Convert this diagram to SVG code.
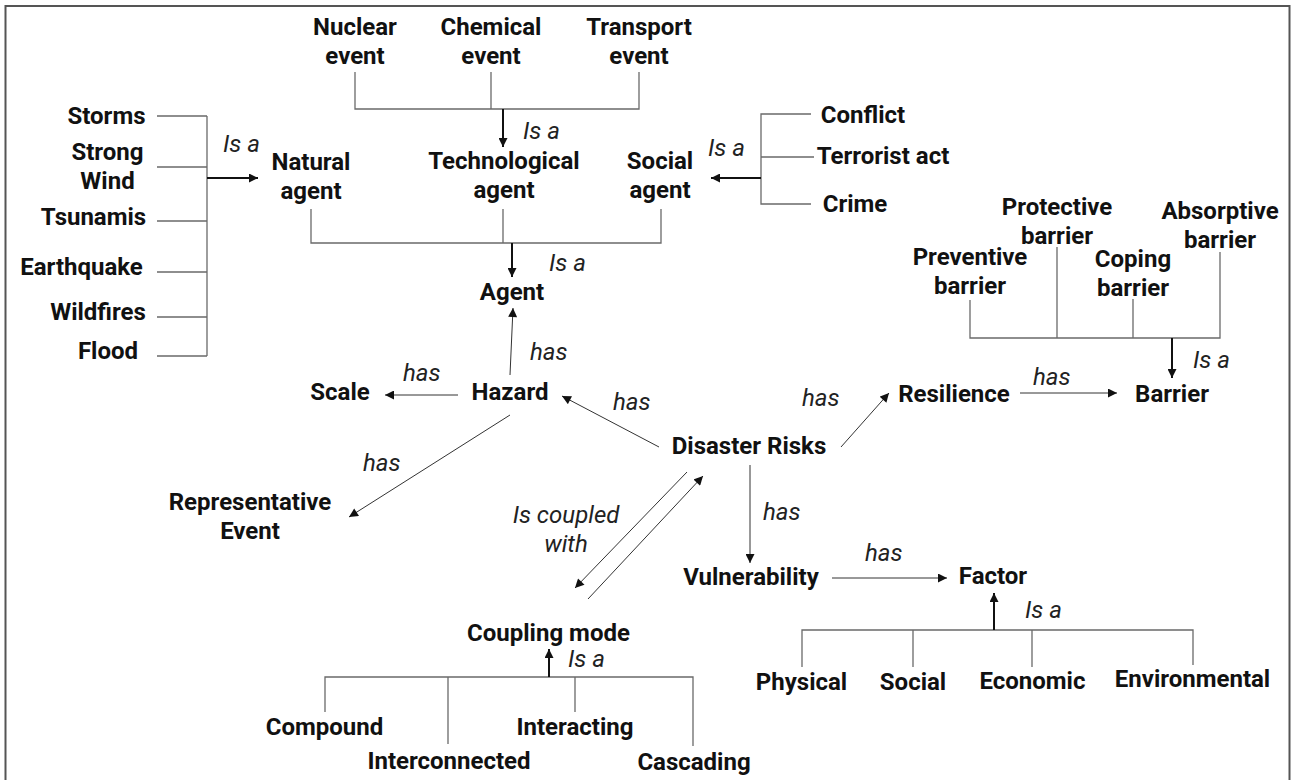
<svg xmlns="http://www.w3.org/2000/svg" width="1293" height="780" viewBox="0 0 1293 780">
<style>
.n{font-family:Roboto,"Liberation Sans",sans-serif;font-weight:700;font-size:24px;fill:#111;text-anchor:middle}
.l{font-family:Roboto,"Liberation Sans",sans-serif;font-style:italic;font-size:24px;fill:#222}
.lm{text-anchor:middle}
.tr{stroke:#6a6a6a;stroke-width:1.3;fill:none}
.has{stroke:#333;stroke-width:1;fill:none;marker-end:url(#a)}
.isa{stroke:#111;stroke-width:2;fill:none;marker-end:url(#a)}
</style>
<defs>
<marker id="a" viewBox="0 0 10 10" refX="10" refY="5" markerWidth="10" markerHeight="9" markerUnits="userSpaceOnUse" orient="auto"><path d="M0,0 L10,5 L0,10 z" fill="#111"/></marker>
</defs>
<rect x="0" y="0" width="1293" height="780" fill="#fff"/>
<rect x="5.5" y="6" width="1284" height="800" fill="none" stroke="#555" stroke-width="2"/>

<g id="connectors">
<path class="tr" d="M355,72 V109 H639 V72 M491,72 V109"/>
<path class="isa" d="M503,109 V147"/>
<path class="tr" d="M311,209 V243 H661 V209 M503,209 V243"/>
<path class="isa" d="M512,243 V277"/>
<path class="tr" d="M157,116 H207 M157,167 H207 M157,221 H207 M157,272 H207 M157,317 H207 M157,356 H207 M207,116 V356"/>
<path class="isa" d="M207,178 H258"/>
<path class="tr" d="M811,114 H761 V204 H811 M761,157 H814"/>
<path class="isa" d="M761,178 H711"/>
<path class="tr" d="M970,300 V338 H1220 V252 M1057,247 V338 M1133,299 V338"/>
<path class="isa" d="M1172,338 V378"/>
<path class="tr" d="M325,712 V677 H693 V746 M448,677 V744 M575,677 V712"/>
<path class="isa" d="M549,677 V649"/>
<path class="tr" d="M802,667 V630 H1193 V665 M913,630 V667 M1032,630 V667"/>
<path class="isa" d="M994,630 V593"/>
<path class="has" d="M510,375 L513,308"/>
<path class="has" d="M458,395 L385,395"/>
<path class="has" d="M510,415 L349,517"/>
<path class="has" d="M659,447 L562,396"/>
<path class="has" d="M841,447 L889,393"/>
<path class="has" d="M750,465 L750,563"/>
<path class="has" d="M832,578 L947,578"/>
<path class="has" d="M1020,393 L1117,393"/>
<path class="has" d="M588,599 L703,476"/>
<path class="has" d="M687,472 L575,588"/>
<text class="l" x="523" y="139">Is a</text>
<text class="l" x="549" y="271">Is a</text>
<text class="l" x="223" y="152">Is a</text>
<text class="l" x="708" y="156">Is a</text>
<text class="l" x="1193" y="368">Is a</text>
<text class="l" x="1033" y="385">has</text>
<text class="l" x="530" y="360">has</text>
<text class="l" x="403" y="381">has</text>
<text class="l" x="363" y="471">has</text>
<text class="l" x="613" y="410">has</text>
<text class="l" x="802" y="406">has</text>
<text class="l" x="763" y="520">has</text>
<text class="l" x="865" y="561">has</text>
<text class="l lm" x="566" y="523">Is coupled</text>
<text class="l lm" x="566" y="552">with</text>
<text class="l" x="568" y="667">Is a</text>
<text class="l" x="1025" y="618">Is a</text>
</g>

<g id="nuclear"><text class="n" x="355" y="35">Nuclear</text><text class="n" x="355" y="64">event</text></g>
<g id="chemical"><text class="n" x="491" y="35">Chemical</text><text class="n" x="491" y="64">event</text></g>
<g id="transport"><text class="n" x="639" y="35">Transport</text><text class="n" x="639" y="64">event</text></g>
<g id="natural"><text class="n" x="311" y="170">Natural</text><text class="n" x="311" y="199">agent</text></g>
<g id="technological"><text class="n" x="504" y="169">Technological</text><text class="n" x="504" y="198">agent</text></g>
<g id="social-agent"><text class="n" x="660" y="169">Social</text><text class="n" x="660" y="198">agent</text></g>
<g id="agent"><text class="n" x="512" y="300">Agent</text></g>
<g id="storms"><text class="n" x="106.5" y="124">Storms</text></g>
<g id="strong-wind"><text class="n" x="107.5" y="160">Strong</text><text class="n" x="107.5" y="189">Wind</text></g>
<g id="tsunamis"><text class="n" x="93.5" y="225">Tsunamis</text></g>
<g id="earthquake"><text class="n" x="81.5" y="275">Earthquake</text></g>
<g id="wildfires"><text class="n" x="98" y="320">Wildfires</text></g>
<g id="flood"><text class="n" x="108" y="359">Flood</text></g>
<g id="conflict"><text class="n" x="863" y="123">Conflict</text></g>
<g id="terrorist"><text class="n" x="883" y="164">Terrorist act</text></g>
<g id="crime"><text class="n" x="855" y="212">Crime</text></g>
<g id="protective"><text class="n" x="1057" y="215">Protective</text><text class="n" x="1057" y="244">barrier</text></g>
<g id="absorptive"><text class="n" x="1220" y="219">Absorptive</text><text class="n" x="1220" y="248">barrier</text></g>
<g id="preventive"><text class="n" x="970" y="265">Preventive</text><text class="n" x="970" y="294">barrier</text></g>
<g id="coping"><text class="n" x="1133" y="267">Coping</text><text class="n" x="1133" y="296">barrier</text></g>
<g id="barrier"><text class="n" x="1172" y="402">Barrier</text></g>
<g id="resilience"><text class="n" x="954" y="402">Resilience</text></g>
<g id="hazard"><text class="n" x="510" y="400">Hazard</text></g>
<g id="scale"><text class="n" x="340" y="400">Scale</text></g>
<g id="rep-event"><text class="n" x="250" y="510">Representative</text><text class="n" x="250" y="539">Event</text></g>
<g id="disaster"><text class="n" x="749" y="454">Disaster Risks</text></g>
<g id="vulnerability"><text class="n" x="751" y="585">Vulnerability</text></g>
<g id="factor"><text class="n" x="993" y="584">Factor</text></g>
<g id="coupling"><text class="n" x="548.5" y="641">Coupling mode</text></g>
<g id="compound"><text class="n" x="324.5" y="735">Compound</text></g>
<g id="interconnected"><text class="n" x="449" y="769">Interconnected</text></g>
<g id="interacting"><text class="n" x="575" y="735">Interacting</text></g>
<g id="cascading"><text class="n" x="694" y="770">Cascading</text></g>
<g id="physical"><text class="n" x="801.5" y="690">Physical</text></g>
<g id="social"><text class="n" x="913" y="690">Social</text></g>
<g id="economic"><text class="n" x="1032.5" y="689">Economic</text></g>
<g id="environmental"><text class="n" x="1192.5" y="687">Environmental</text></g>
</svg>
